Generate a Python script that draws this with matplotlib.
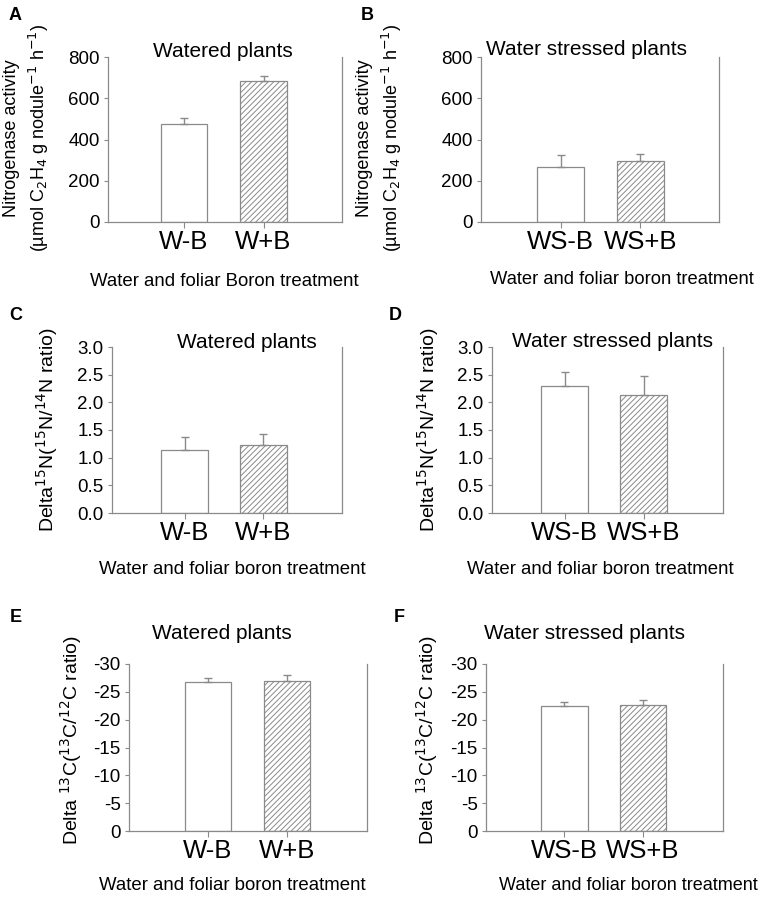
import numpy as np
import matplotlib
matplotlib.use('Agg')
from matplotlib import pyplot as plt

plt.rcParams['font.family'] = ['Liberation Sans', 'DejaVu Sans']
plt.rcParams['axes.unicode_minus'] = False
plt.rcParams['hatch.linewidth'] = 0.7

# data
watered_labels = ['W-B', 'W+B']
stressed_labels = ['WS-B', 'WS+B']

nitro_watered = [475, 683]
nitro_watered_err = [30, 23]
nitro_stressed = [265, 298]
nitro_stressed_err = [60, 30]

n15_watered = [1.13, 1.22]
n15_watered_err = [0.24, 0.21]
n15_stressed = [2.30, 2.14]
n15_stressed_err = [0.24, 0.34]

c13_watered = [-26.7, -27.0]
c13_watered_err = [0.7, 1.1]
c13_stressed = [-22.5, -22.7]
c13_stressed_err = [0.6, 0.9]

W, H = 761, 899
GRAY = '#8a8a8a'

fig = plt.figure(figsize=(W / 100, H / 100), dpi=100)


def px_axes(left, right, top, bottom):
    return fig.add_axes([left / W, 1 - bottom / H, (right - left) / W, (bottom - top) / H])


def ftext(x, y, s, **kw):
    fig.text(x / W, 1 - y / H, s, **kw)


def panel(box, xlim, labels, vals, errs, yticks, ylim, ticklabels):
    ax = px_axes(*box)
    x = np.arange(len(vals))
    ax.bar(x[0], vals[0], 0.59, color='white', edgecolor=GRAY, linewidth=0.9, zorder=2)
    ax.bar(x[1], vals[1], 0.59, color='white', edgecolor=GRAY, linewidth=0.9,
           hatch='//////', zorder=2)
    vals = np.array(vals)
    errs = np.array(errs)
    if ylim[1] < ylim[0]:
        yerr = [errs, np.zeros_like(errs)]
    else:
        yerr = [np.zeros_like(errs), errs]
    ax.errorbar(x, vals, yerr=yerr, fmt='none', ecolor=GRAY, elinewidth=1,
                capsize=3, capthick=1, zorder=3)
    ax.set_xlim(*xlim)
    ax.set_ylim(*ylim)
    ax.set_xticks(x)
    ax.set_xticklabels(labels, fontsize=18.5)
    ax.set_yticks(yticks)
    ax.set_yticklabels(ticklabels, fontsize=13.5)
    ax.spines['top'].set_visible(False)
    for s in ['left', 'bottom', 'right']:
        ax.spines[s].set_color(GRAY)
        ax.spines[s].set_linewidth(0.9)
    ax.tick_params(axis='y', length=3, color=GRAY, pad=3)
    ax.tick_params(axis='x', length=4, color=GRAY, pad=2)
    return ax


nitro_ticks = [0, 200, 400, 600, 800]
nitro_ticklabels = ['0', '200', '400', '600', '800']
n15_ticks = [0, 0.5, 1.0, 1.5, 2.0, 2.5, 3.0]
n15_ticklabels = ['0.0', '0.5', '1.0', '1.5', '2.0', '2.5', '3.0']
c13_ticks = [0, -5, -10, -15, -20, -25, -30]
c13_ticklabels = ['0', '-5', '-10', '-15', '-20', '-25', '-30']

# A
panel((108, 342, 57, 222), (-0.956, 1.987), watered_labels, nitro_watered,
      nitro_watered_err, nitro_ticks, (0, 800), nitro_ticklabels)
# B
panel((481, 719, 57, 222), (-1.0, 1.99), stressed_labels, nitro_stressed,
      nitro_stressed_err, nitro_ticks, (0, 800), nitro_ticklabels)
# C
panel((112, 342, 347, 513), (-0.918, 1.994), watered_labels, n15_watered,
      n15_watered_err, n15_ticks, (0, 3), n15_ticklabels)
# D
panel((492, 723, 347, 513), (-0.918, 2.006), stressed_labels, n15_stressed,
      n15_stressed_err, n15_ticks, (0, 3), n15_ticklabels)
# E
panel((129, 367, 664, 831), (-1.0, 2.01), watered_labels, c13_watered,
      c13_watered_err, c13_ticks, (0, -30), c13_ticklabels)
# F
panel((486, 723, 664, 831), (-1.0, 2.02), stressed_labels, c13_stressed,
      c13_stressed_err, c13_ticks, (0, -30), c13_ticklabels)

# panel letters
for letter, (lx, ly) in zip('ABCDEF', [(15, 15), (367, 15), (16, 316), (395, 316),
                                     (16, 617), (399, 617)]):
    ftext(lx, ly, letter, fontsize=13, fontweight='bold', ha='center', va='center')

# titles
ftext(223, 57, 'Watered plants', fontsize=15, ha='center', va='baseline')
ftext(587, 55, 'Water stressed plants', fontsize=15, ha='center', va='baseline')
ftext(247, 348, 'Watered plants', fontsize=15, ha='center', va='baseline')
ftext(612, 347, 'Water stressed plants', fontsize=15, ha='center', va='baseline')
ftext(222, 639, 'Watered plants', fontsize=15, ha='center', va='baseline')
ftext(585, 639, 'Water stressed plants', fontsize=15, ha='center', va='baseline')

# x labels
ftext(224, 282, 'Water and foliar Boron treatment', fontsize=13.4, ha='center', va='center')
ftext(622, 280, 'Water and foliar boron treatment', fontsize=13.2, ha='center', va='center')
ftext(232, 570, 'Water and foliar boron treatment', fontsize=13.4, ha='center', va='center')
ftext(600, 570, 'Water and foliar boron treatment', fontsize=13.4, ha='center', va='center')
ftext(232, 885, 'Water and foliar boron treatment', fontsize=13.4, ha='center', va='center')
ftext(628, 885, 'Water and foliar boron treatment', fontsize=13.0, ha='center', va='center')

# y labels
nitro_ylabel = 'Nitrogenase activity\n(µmol C$_2$H$_4$ g nodule$^{-1}$ h$^{-1}$)'
n15_ylabel = 'Delta$^{15}$N($^{15}$N/$^{14}$N ratio)'
c13_ylabel = 'Delta $^{13}$C($^{13}$C/$^{12}$C ratio)'
ftext(27, 138, nitro_ylabel, fontsize=13, rotation=90, ha='center', va='center',
      linespacing=1.4)
ftext(380, 138, nitro_ylabel, fontsize=13, rotation=90, ha='center', va='center',
      linespacing=1.4)
ftext(47, 430, n15_ylabel, fontsize=14, rotation=90, ha='center', va='center')
ftext(428, 430, n15_ylabel, fontsize=14, rotation=90, ha='center', va='center')
ftext(71, 740, c13_ylabel, fontsize=14, rotation=90, ha='center', va='center')
ftext(427, 740, c13_ylabel, fontsize=14, rotation=90, ha='center', va='center')

fig.savefig('out.png', dpi=100)
